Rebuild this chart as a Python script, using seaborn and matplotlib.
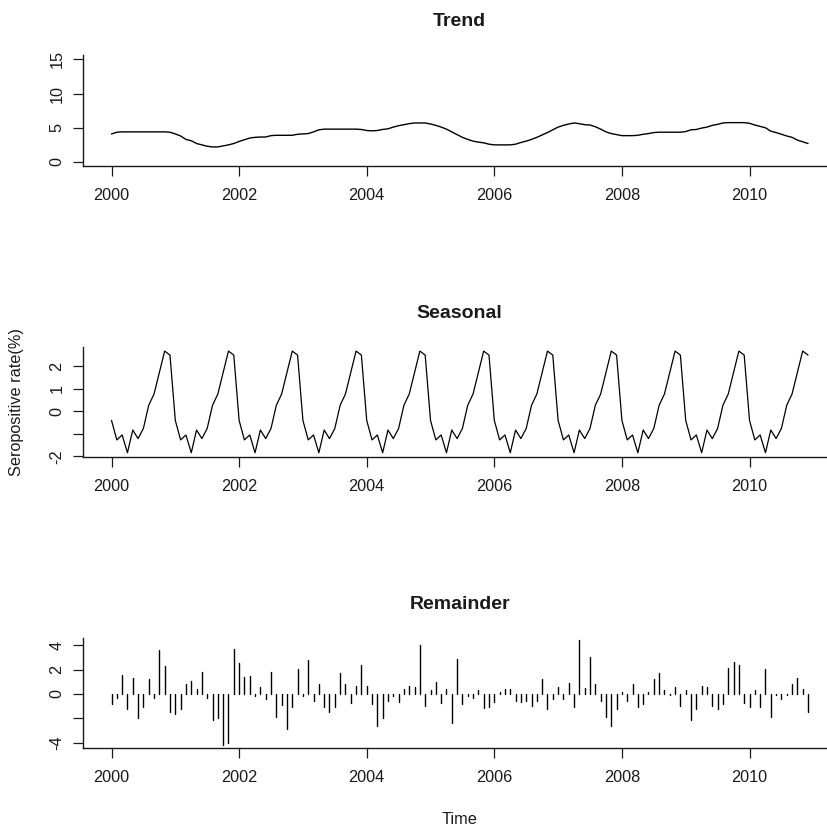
import numpy as np
import pandas as pd
import matplotlib
matplotlib.use("Agg")
import matplotlib.pyplot as plt
import seaborn as sns

# ---------------- data ----------------
start_year = 2000
months_per_year = 12

trend = [
    4.10, 4.35, 4.40, 4.40, 4.40, 4.40, 4.40, 4.40, 4.40, 4.40, 4.40, 4.35,
    4.10, 3.80, 3.30, 3.10, 2.70, 2.50, 2.30, 2.20, 2.20, 2.35, 2.50, 2.70,
    3.00, 3.25, 3.50, 3.60, 3.65, 3.65, 3.85, 3.90, 3.90, 3.90, 3.90, 4.05,
    4.10, 4.15, 4.40, 4.70, 4.80, 4.80, 4.80, 4.80, 4.80, 4.80, 4.80, 4.75,
    4.60, 4.55, 4.60, 4.75, 4.85, 5.10, 5.30, 5.45, 5.60, 5.70, 5.70, 5.70,
    5.55, 5.35, 5.10, 4.80, 4.40, 4.00, 3.60, 3.30, 3.05, 2.90, 2.80, 2.60,
    2.50, 2.50, 2.50, 2.50, 2.60, 2.85, 3.05, 3.30, 3.60, 3.95, 4.30, 4.70,
    5.10, 5.35, 5.55, 5.70, 5.60, 5.45, 5.40, 5.15, 4.80, 4.40, 4.15, 4.00,
    3.85, 3.85, 3.85, 3.90, 4.05, 4.15, 4.30, 4.35, 4.35, 4.35, 4.35, 4.35,
    4.45, 4.70, 4.75, 4.95, 5.10, 5.35, 5.50, 5.70, 5.75, 5.75, 5.75, 5.75,
    5.65, 5.40, 5.20, 5.00, 4.50, 4.30, 4.05, 3.80, 3.60, 3.20, 2.95, 2.70,
]

seasonal = [
    -0.40, -1.27, -1.05, -1.84, -0.83, -1.21, -0.76, 0.27, 0.77, 1.72, 2.68, 2.50,
    -0.40, -1.27, -1.05, -1.84, -0.83, -1.21, -0.76, 0.27, 0.77, 1.72, 2.68, 2.50,
    -0.40, -1.27, -1.05, -1.84, -0.83, -1.21, -0.76, 0.27, 0.77, 1.72, 2.68, 2.50,
    -0.40, -1.27, -1.05, -1.84, -0.83, -1.21, -0.76, 0.27, 0.77, 1.72, 2.68, 2.50,
    -0.40, -1.27, -1.05, -1.84, -0.83, -1.21, -0.76, 0.27, 0.77, 1.72, 2.68, 2.50,
    -0.40, -1.27, -1.05, -1.84, -0.83, -1.21, -0.76, 0.27, 0.77, 1.72, 2.68, 2.50,
    -0.40, -1.27, -1.05, -1.84, -0.83, -1.21, -0.76, 0.27, 0.77, 1.72, 2.68, 2.50,
    -0.40, -1.27, -1.05, -1.84, -0.83, -1.21, -0.76, 0.27, 0.77, 1.72, 2.68, 2.50,
    -0.40, -1.27, -1.05, -1.84, -0.83, -1.21, -0.76, 0.27, 0.77, 1.72, 2.68, 2.50,
    -0.40, -1.27, -1.05, -1.84, -0.83, -1.21, -0.76, 0.27, 0.77, 1.72, 2.68, 2.50,
    -0.40, -1.27, -1.05, -1.84, -0.83, -1.21, -0.76, 0.27, 0.77, 1.72, 2.68, 2.50,
]

remainder = [
    -0.80, -0.30, 1.55, -1.20, 1.30, -1.95, -1.05, 1.20, -0.30, 3.60, 2.30, -1.50,
    -1.60, -1.20, 0.80, 1.05, 0.40, 1.80, -0.30, -2.10, -2.00, -4.15, -4.05, 3.65,
    2.50, 1.35, 1.45, -0.20, 0.55, -0.40, 1.80, -1.90, -0.90, -2.90, -1.05, 2.05,
    -0.20, 2.75, -0.55, 0.80, -1.05, -1.50, -1.05, 1.70, 0.80, -0.70, 0.65, 2.35,
    0.65, -0.80, -2.65, -1.95, -0.55, -0.20, -0.65, 0.40, 0.65, 0.55, 4.05, -1.00,
    0.30, 0.95, -0.70, 0.40, -2.35, 2.90, -0.80, -0.20, -0.30, 0.30, -1.15, -1.10,
    -0.65, 0.15, 0.40, 0.40, -0.55, -0.65, -0.60, -1.00, -0.55, 1.20, -1.20, -0.40,
    0.55, -0.40, 0.90, -1.10, 4.40, 0.45, 3.00, 0.80, -0.55, -1.85, -2.65, -1.20,
    0.15, -0.55, 0.80, -1.05, -0.80, 0.15, 1.20, 1.70, 0.30, -0.10, 0.55, -0.95,
    0.30, -2.10, -1.20, 0.65, 0.55, -0.95, -1.20, -0.80, 2.10, 2.65, 2.35, -0.70,
    -1.10, 0.30, -1.10, 2.05, -1.85, -0.10, -0.40, -0.10, 0.80, 1.30, 0.40, -1.50,
]

x_ticks = [2000, 2002, 2004, 2006, 2008, 2010]
x_tick_labels = ["2000", "2002", "2004", "2006", "2008", "2010"]
trend_ticks = [0, 5, 10, 15]
trend_tick_labels = ["0", "5", "10", "15"]
seasonal_ticks = [-2, -1, 0, 1, 2]
seasonal_tick_labels = ["-2", "", "0", "1", "2"]
remainder_ticks = [-4, -2, 0, 2, 4]
remainder_tick_labels = ["-4", "", "0", "2", "4"]

panel_titles = ["Trend", "Seasonal", "Remainder"]
y_label = "Seropositive rate(%)"
x_label = "Time"

# ---------------- frames ----------------
n = len(trend)
time = start_year + np.arange(n) / months_per_year
df_trend = pd.DataFrame({"time": time, "value": trend})
df_seas = pd.DataFrame({"time": time, "value": seasonal})
df_rem = pd.DataFrame({
    "time": np.repeat(time, 2),
    "value": np.column_stack([np.zeros(n), np.asarray(remainder)]).ravel(),
    "unit": np.repeat(np.arange(n), 2),
})

# ---------------- style ----------------
sns.set_style("ticks")
plt.rcParams["font.family"] = ["Liberation Sans", "DejaVu Sans"]
plt.rcParams["axes.linewidth"] = 1.0

W, H = 828, 827
fig = plt.figure(figsize=(W / 100, H / 100), dpi=100)

left = 83.3 / W
width = (835.9 - 83.3) / W
xlim = (1999.558, 2011.354)

def rect(top_px, bottom_px):
    return [left, 1 - bottom_px / H, width, (bottom_px - top_px) / H]

ax_t = fig.add_axes(rect(55.2, 166.1))
ax_s = fig.add_axes(rect(347.0, 456.8))
ax_r = fig.add_axes(rect(637.8, 747.7))

sns.lineplot(data=df_trend, x="time", y="value", ax=ax_t, color="black",
             linewidth=1.0, estimator=None)
sns.lineplot(data=df_seas, x="time", y="value", ax=ax_s, color="black",
             linewidth=0.9, estimator=None)
sns.lineplot(data=df_rem, x="time", y="value", units="unit", estimator=None,
             sort=False, ax=ax_r, color="black", linewidth=1.0)

ylims = [(-0.6, 15.6), (-2.02, 2.86), (-4.4, 4.6)]
yticks = [(trend_ticks, trend_tick_labels),
          (seasonal_ticks, seasonal_tick_labels),
          (remainder_ticks, remainder_tick_labels)]

for ax, title, yl, (yt, ytl) in zip([ax_t, ax_s, ax_r], panel_titles, ylims, yticks):
    ax.set_xlim(*xlim)
    ax.set_ylim(*yl)
    ax.set_xticks(x_ticks)
    ax.set_xticklabels(x_tick_labels)
    ax.set_yticks(yt)
    ax.set_yticklabels(ytl)
    ax.set_xlabel("")
    ax.set_ylabel("")
    sns.despine(ax=ax)
    for sp in ["left", "bottom"]:
        ax.spines[sp].set_linewidth(1.0)
        ax.spines[sp].set_color("#1a1a1a")
    ax.tick_params(axis="both", direction="out", length=7.2, width=0.9,
                   color="#1a1a1a", labelsize=11.7, labelcolor="#1a1a1a")
    ax.tick_params(axis="x", pad=8.5)
    ax.tick_params(axis="y", pad=6.5)
    for lab in ax.get_yticklabels():
        lab.set_rotation(90)
        lab.set_va("center")
        lab.set_ha("right")
    ax.set_title(title, fontsize=14, fontweight="bold", pad=21.0, color="#1a1a1a")

fig.text(17 / W, 1 - 401.9 / H, y_label, rotation=90, ha="center", va="center",
         fontsize=11.7, color="#1a1a1a")
fig.text((83.3 + 835.9) / 2 / W, 1 - 820 / H, x_label, ha="center", va="center",
         fontsize=11.7, color="#1a1a1a")

fig.savefig("out.png", dpi=100)
